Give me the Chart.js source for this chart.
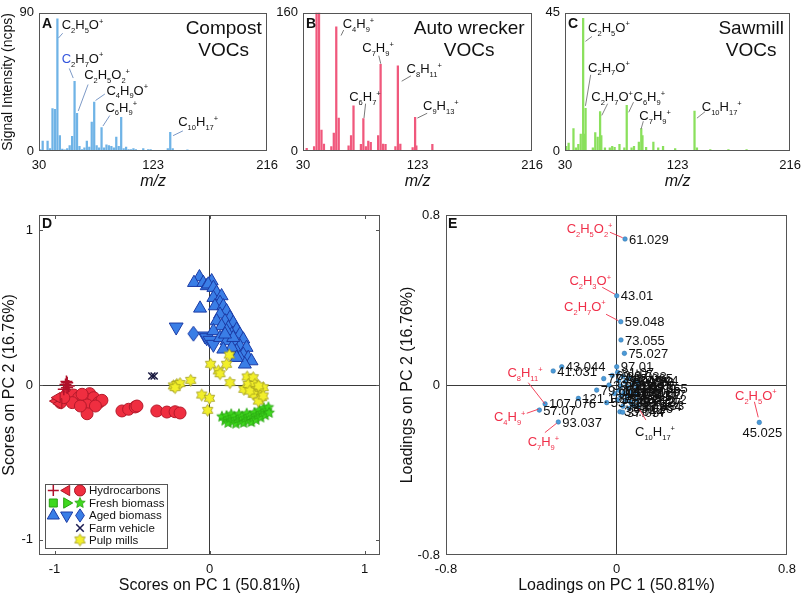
<!DOCTYPE html>
<html><head><meta charset="utf-8">
<script src="https://cdn.jsdelivr.net/npm/chart.js@4.4.1/dist/chart.umd.min.js"></script>
<style>
html,body{margin:0;padding:0;background:#fff;}
body{width:808px;height:596px;position:relative;overflow:hidden;}
canvas{position:absolute;}
</style></head><body>
<canvas id="cA" width="285" height="196" style="left:0px;top:0px"></canvas>
<canvas id="cB" width="285" height="196" style="left:265px;top:0px"></canvas>
<canvas id="cC" width="278" height="196" style="left:530px;top:0px"></canvas>
<canvas id="cD" width="400" height="400" style="left:0px;top:196px"></canvas>
<canvas id="cE" width="408" height="400" style="left:400px;top:196px"></canvas>
<script>
// ---------------- DATA ----------------
const mzTicks = [30, 123, 216];

const compostMz  = [31,33,37,39,41,43,45,47,49,51,53,55,57,59,61,63,65,67,69,71,73,75,77,79,81,83,85,87,89,91,93,95,97,99,101,103,105,107,109,115,119,121,135,137,139,151,165];
const compostInt = [1,6.4,6.4,1.5,27.7,27.1,86,10,1.2,0.8,1.5,3.5,9.6,45.4,24.6,3,1,2,6.4,2.5,18.8,31.9,3.5,2,15.2,2,4,3.5,3,2,9,3,21.9,1.5,2.5,1,1,1.5,1,1.5,1,1,1.5,12.1,1.6,0.8,0.5];

const autoMz  = [33,39,41,43,45,47,53,55,57,59,67,69,71,77,79,81,83,85,91,93,95,97,105,107,109,119,121,122,135];
const autoInt = [3,5,250,250,24.1,8,5,20.8,143.7,38.1,6,17.8,52.2,7.8,37.4,5,11.5,10,17.8,100.3,8,7.8,5,98.5,8,4,38.9,6,7.8];

const sawMz  = [31,33,37,39,41,43,45,46,47,53,55,57,59,60,63,67,69,71,75,79,81,85,87,91,93,94,97,103,107,111,121,137,139,150,165,180];
const sawInt = [1.5,2.6,7.3,1,2.2,5.5,43.2,5.5,13.9,1,6,4.5,12.8,5,1,1,1.5,1.2,2.2,1,14.9,1,1.5,2.9,7.3,5,1.2,2.9,1,1.5,0.8,13,1,0.5,0.5,0.5];

const scoreTicks = [-1, 0, 1];
const loadTicks = [-0.8, 0, 0.8];

const hcPlus = [[-0.929,0.004],[-0.919,-0.017],[-0.94,-0.028],[-0.908,-0.006],[-0.923,0.022],[-0.918,0.015]];
const hcLeftTri = [[-0.994,-0.104],[-0.972,-0.121],[-0.983,-0.082]];
const hcCircle = [[-0.919,-0.060],[-0.876,-0.065],[-0.844,-0.082],[-0.811,-0.093],[-0.773,-0.056],[-0.779,-0.093],[-0.747,-0.082],[-0.715,-0.114],[-0.694,-0.099],[-0.790,-0.129],[-0.736,-0.136],[-0.790,-0.186],[-0.961,-0.114],[-0.886,-0.114],[-0.833,-0.136],[-0.94,-0.082],[-0.822,-0.060],[-0.565,-0.168],[-0.522,-0.157],[-0.479,-0.142],[-0.468,-0.136],[-0.34,-0.168],[-0.275,-0.175],[-0.222,-0.173],[-0.19,-0.181]];
const freshStar = [[0.08,-0.205],[0.10,-0.23],[0.11,-0.2],[0.12,-0.245],[0.13,-0.215],[0.14,-0.19],[0.15,-0.235],[0.16,-0.205],[0.17,-0.25],[0.18,-0.22],[0.19,-0.19],[0.2,-0.235],[0.21,-0.205],[0.22,-0.245],[0.23,-0.215],[0.24,-0.185],[0.25,-0.23],[0.26,-0.2],[0.27,-0.24],[0.28,-0.21],[0.29,-0.18],[0.3,-0.225],[0.31,-0.195],[0.32,-0.165],[0.33,-0.21],[0.34,-0.18],[0.35,-0.15],[0.36,-0.195],[0.37,-0.165],[0.38,-0.145],[0.385,-0.18]];
const agedUp = [[-0.065,0.699],[-0.10,0.662],[-0.04,0.662],[0.014,0.673],[-0.018,0.641],[-0.008,0.652],[0.025,0.630],[0.046,0.598],[0.025,0.565],[0.078,0.576],[0.068,0.533],[0.035,0.511],[0.089,0.511],[0.110,0.479],[0.068,0.457],[0.132,0.436],[0.10,0.414],[0.153,0.403],[0.121,0.371],[0.175,0.360],[0.143,0.328],[0.196,0.328],[0.218,0.296],[0.164,0.285],[0.196,0.252],[0.239,0.242],[0.175,0.220],[0.218,0.198],[0.25,0.177],[0.271,0.155],[0.196,0.177],[0.228,0.134],[0.046,0.414],[0.078,0.382],[0.025,0.350],[0.068,0.306],[0.110,0.285],[0.143,0.242],[0.089,0.231],[0.175,0.177],[-0.061,0.496],[0.11,0.35],[0.153,0.306],[0.10,0.328]];
const agedDown = [[-0.215,0.375],[-0.029,0.317],[-0.018,0.306],[0.003,0.289],[0.025,0.263]];
const agedDiamond = [[-0.104,0.332]];
const farmVehicle = [[-0.372,0.058],[-0.357,0.058]];
const pulpMill = [[-0.233,-0.006],[-0.211,0.004],[-0.19,0.009],[-0.121,0.030],[-0.222,-0.017],[-0.05,-0.065],[0.0,-0.086],[-0.012,-0.164],[0.007,0.134],[0.057,0.091],[0.068,0.073],[0.11,0.134],[0.128,0.194],[0.132,0.015],[0.222,-0.028],[0.243,0.052],[0.282,0.047],[0.25,0.004],[0.293,0.004],[0.304,-0.028],[0.325,-0.05],[0.282,-0.06],[0.336,-0.082],[0.315,-0.104],[0.347,-0.017],[0.26,-0.039],[0.317,-0.006],[0.346,-0.071]];

const loadMz  = ['61.029','43.01','59.048','73.055','75.027','43.044','41.031','97.01','107.076','57.07','93.037','121.101','45.025','79.054','53.039','69.07','81.07','33.033','47.049','83.086','85.065','87.044','95.049','99.081','101.06','109.065','111.08','115.112','119.086','123.117','133.101','135.117','137.133','139.112','149.023','153.127','55.054','71.049','35.044','37.057','63.026','67.054','89.06','105.07','77.04','39.023','91.054'];
const loadPC1 = [0.040,0.001,0.020,0.021,0.037,-0.257,-0.297,0.001,-0.335,-0.362,-0.273,-0.179,0.670,-0.093,-0.046,-0.02,0.005,0.03,0.01,0.04,0.06,0.085,0.02,0.05,0.075,0.095,0.01,0.035,0.065,0.09,0.02,0.05,0.078,0.095,0.04,0.065,0.005,0.03,0.016,0.029,0.06,0.1,0.1,0.1,-0.06,-0.035,-0.01];
const loadPC2 = [0.687,0.420,0.298,0.212,0.149,0.086,0.066,0.086,-0.089,-0.118,-0.174,-0.063,-0.176,-0.024,-0.083,0.045,0.06,0.04,0.02,0.015,0.03,0.02,-0.005,-0.01,0.0,-0.015,-0.025,-0.035,-0.03,-0.045,-0.05,-0.055,-0.094,-0.07,-0.075,-0.08,-0.07,-0.1,-0.126,-0.128,-0.11,-0.1,0.01,-0.04,0.03,0.0,-0.04];
const loadBelow = ['45.025'];

// annotation placement (data units)
const compostLabels = [
  {t:'C_2H_5O^+', at:[48.5,82.3], line:[[45.9,73.6],[49.3,76.7]]},
  {t:'C_2H_7O^+', at:[48.5,60.6], line:[[54.7,53.75],[57.9,47.5]], first:'#3355dd'},
  {t:'C_2H_5O_2^+', at:[66.8,50], line:[[70,43.3],[62,26.1]]},
  {t:'C_4H_9O^+', at:[85,39.8], line:[[83.7,37.1],[76.1,32.9]]},
  {t:'C_6H_9^+', at:[84.2,28.75], line:[[87.7,23.1],[82.1,16.25]]},
  {t:'C_10H_17^+', at:[143.5,19.4], line:[[147.3,13.1],[139.3,10]]}
];
const autoLabels = [
  {t:'C_4H_9^+', at:[62.2,147.4], line:[[63,140],[60.9,133.7]]},
  {t:'C_7H_9^+', at:[78.1,119.7], line:[[91.5,110.3],[93.1,101.1]]},
  {t:'C_8H_11^+', at:[114.1,95.6], line:[[117.6,87],[110.1,80.8]]},
  {t:'C_6H_7^+', at:[67.5,63], line:[[80.8,54.8],[79.5,38.1]]},
  {t:'C_9H_13^+', at:[127.4,53], line:[[130.8,43.7],[122.8,38.1]]}
];
const sawLabels = [
  {t:'C_2H_5O^+', at:[49.1,40.4], line:[[52.3,37.3],[46.9,35.7]]},
  {t:'C_2H_7O^+', at:[49.1,27.4], line:[[51.2,24.8],[46.9,14.7]]},
  {t:'C_2H_7O^+', at:[51.7,17.7], line:[[65.2,15.4],[60.4,11.6]]},
  {t:'C_6H_9^+', at:[86.6,17.7], line:[[86.6,15.9],[82.6,12.6]]},
  {t:'C_7H_9^+', at:[91.4,11.5], line:[[94.7,9.7],[92.8,7.1]]},
  {t:'C_10H_17^+', at:[143,14.4], line:[[145.7,12.8],[139,10.7]]}
];
const loadFormulas = [
  {t:'C_2H_5O_2^+', at:[-0.234,0.737], line:[[-0.031,0.719],[0.029,0.693]], red:true},
  {t:'C_2H_3O^+', at:[-0.221,0.494], line:[[-0.067,0.46],[-0.007,0.427]], red:true},
  {t:'C_2H_7O^+', at:[-0.246,0.372], line:[[-0.049,0.333],[0.008,0.303]], red:true},
  {t:'C_8H_11^+', at:[-0.512,0.06], line:[[-0.414,0.011],[-0.336,-0.089]], red:true},
  {t:'C_4H_9^+', at:[-0.575,-0.146], line:[[-0.421,-0.133],[-0.367,-0.114]], red:true},
  {t:'C_7H_9^+', at:[-0.417,-0.267], line:[[-0.336,-0.224],[-0.281,-0.18]], red:true},
  {t:'C_2H_5O^+', at:[0.556,-0.047], line:[[0.647,-0.079],[0.665,-0.152]], red:true},
  {t:'C_10H_17^+', at:[0.087,-0.22], line:[[0.138,-0.165],[0.107,-0.114]], red:false}
];

// ---------------- HELPERS ----------------
const FONT = "'Liberation Sans', Arial, Helvetica, sans-serif";
Chart.defaults.font.family = FONT;
Chart.defaults.color = '#111';
const RED = '#f0304a';

function fixedTicks(vals){ return s => { s.ticks = vals.map(v => ({value: v})); }; }
function toPts(arr){ return arr.map(p => ({x: p[0], y: p[1]})); }
function decor(fn){ return {id:'decor', afterDatasetsDraw(chart){ fn(chart, chart.ctx, chart.chartArea, chart.scales.x, chart.scales.y); }}; }
function frame(ctx, a, color){
  ctx.save(); ctx.strokeStyle = color; ctx.lineWidth = 1;
  ctx.strokeRect(Math.round(a.left)+0.5, Math.round(a.top)+0.5, Math.round(a.right-a.left)-1, Math.round(a.bottom-a.top)-1);
  ctx.restore();
}
function drawFormula(ctx, str, x, y, size, color, firstColor){
  const parts = [];
  for (let i = 0; i < str.length;) {
    const c = str[i];
    if (c === '_') { let j = i+1, s = ''; while (j < str.length && /\d/.test(str[j])) s += str[j++]; parts.push([s,1]); i = j; }
    else if (c === '^') { parts.push([str[i+1],2]); i += 2; }
    else { parts.push([c,0]); i++; }
  }
  ctx.save(); ctx.textAlign = 'left'; ctx.textBaseline = 'alphabetic';
  const base = y + size*0.36; let cx = x;
  parts.forEach(([s,k], idx) => {
    const fs = k ? size*0.58 : size;
    ctx.font = fs + 'px ' + FONT;
    ctx.fillStyle = (idx === 0 && firstColor) ? firstColor : color;
    const dy = k === 1 ? size*0.3 : (k === 2 ? -size*0.4 : 0);
    ctx.fillText(s, cx, base + dy);
    cx += ctx.measureText(s).width;
  });
  ctx.restore();
}
function starImg(n, ro, ri, fill, stroke){
  const c = document.createElement('canvas'); const s = Math.ceil(ro*2+3); c.width = s; c.height = s;
  const g = c.getContext('2d'); g.translate(s/2, s/2); g.beginPath();
  for (let k = 0; k < 2*n; k++) { const r = k%2 ? ri : ro; const ang = -Math.PI/2 + k*Math.PI/n; g.lineTo(r*Math.cos(ang), r*Math.sin(ang)); }
  g.closePath(); g.fillStyle = fill; g.fill(); g.lineWidth = 0.8; g.strokeStyle = stroke; g.stroke();
  return c;
}
function diamondImg(w, h, fill, stroke){
  const c = document.createElement('canvas'); c.width = w+2; c.height = h+2;
  const g = c.getContext('2d'); g.translate(c.width/2, c.height/2); g.beginPath();
  g.moveTo(0,-h/2); g.lineTo(w/2,0); g.lineTo(0,h/2); g.lineTo(-w/2,0); g.closePath();
  g.fillStyle = fill; g.fill(); g.lineWidth = 1; g.strokeStyle = stroke; g.stroke();
  return c;
}
function sym(ctx, type, x, y, r, fill, stroke, lw, rot){
  ctx.save(); ctx.translate(x, y); ctx.rotate((rot||0)*Math.PI/180); ctx.beginPath();
  if (type === 'circle') ctx.arc(0,0,r,0,2*Math.PI);
  else if (type === 'triangle') { for (let k=0;k<3;k++){ const a=k*2*Math.PI/3; ctx.lineTo(Math.sin(a)*r, -Math.cos(a)*r);} ctx.closePath(); }
  else if (type === 'rect') ctx.rect(-r,-r,2*r,2*r);
  else if (type === 'diamond') { ctx.moveTo(0,-r*1.2); ctx.lineTo(r*0.8,0); ctx.lineTo(0,r*1.2); ctx.lineTo(-r*0.8,0); ctx.closePath(); }
  else if (type === 'cross') { ctx.moveTo(-r,0); ctx.lineTo(r,0); ctx.moveTo(0,-r); ctx.lineTo(0,r); }
  else if (type === 'x') { const d=r*0.75; ctx.moveTo(-d,-d); ctx.lineTo(d,d); ctx.moveTo(d,-d); ctx.lineTo(-d,d); }
  if (fill && type !== 'cross' && type !== 'x') { ctx.fillStyle = fill; ctx.fill(); }
  ctx.lineWidth = lw; ctx.strokeStyle = stroke; ctx.stroke();
  ctx.restore();
}

// ---------------- SPECTRA (A, B, C) ----------------
function specDecor(letter, titles, titleDx, labels, lineColor){
  return decor((chart, ctx, a, xs, ys) => {
    frame(ctx, a, '#555');
    ctx.save();
    ctx.fillStyle = '#111';
    ctx.font = 'bold 14px ' + FONT; ctx.textAlign = 'left'; ctx.textBaseline = 'alphabetic';
    ctx.fillText(letter, a.left + 3, a.top + 15.5);
    ctx.font = '19px ' + FONT; ctx.textAlign = 'center';
    ctx.fillText(titles[0], a.right + titleDx, a.top + 21.2);
    ctx.fillText(titles[1], a.right + titleDx, a.top + 43);
    ctx.strokeStyle = lineColor; ctx.lineWidth = 0.8;
    labels.forEach(L => {
      ctx.beginPath();
      ctx.moveTo(xs.getPixelForValue(L.line[0][0]), ys.getPixelForValue(L.line[0][1]));
      ctx.lineTo(xs.getPixelForValue(L.line[1][0]), ys.getPixelForValue(L.line[1][1]));
      ctx.stroke();
      drawFormula(ctx, L.t, xs.getPixelForValue(L.at[0]), ys.getPixelForValue(L.at[1]), 13, '#111', L.first);
    });
    ctx.restore();
  });
}
function spectrum(id, mz, inten, ymax, color, cfg){
  const pts = mz.map((m, i) => ({x: m, y: inten[i]}));
  return new Chart(document.getElementById(id), {
    type: 'bar',
    data: {datasets: [{data: pts, backgroundColor: color, borderWidth: 0, barThickness: 1.6, clip: 0}]},
    options: {
      responsive: false, animation: false, devicePixelRatio: 1,
      layout: {autoPadding: false, padding: {left: 0, top: 7, right: cfg.padR, bottom: 0}},
      plugins: {legend: {display: false}, tooltip: {enabled: false}},
      scales: {
        x: {type: 'linear', min: 30, max: 216, offset: false,
            grid: {display: false, drawTicks: false, offset: false}, border: {display: false},
            afterBuildTicks: fixedTicks(mzTicks),
            ticks: {padding: 7, font: {size: 13}, color: '#111', autoSkip: false, maxRotation: 0},
            title: {display: true, text: 'm/z', color: '#111', font: {size: 16, style: 'italic'}, padding: {top: 0, bottom: 5}},
            afterFit: s => { s.height = 45; }},
        y: {type: 'linear', min: 0, max: ymax,
            grid: {display: false, drawTicks: false}, border: {display: false},
            afterBuildTicks: fixedTicks([0, ymax]),
            ticks: {padding: 5, font: {size: 13}, color: '#111'},
            title: {display: !!cfg.ytitle, text: cfg.ytitle || '', color: '#111', font: {size: 14}, padding: {top: 0, bottom: 0}},
            afterFit: s => { s.width = cfg.yw; }}
      }
    },
    plugins: [specDecor(cfg.letter, cfg.titles, cfg.titleDx, cfg.labels, cfg.lineColor)]
  });
}

spectrum('cA', compostMz, compostInt, 90, '#6fb3e6',
  {padR: 15, yw: 39, ytitle: 'Signal Intensity (ncps)', letter: 'A', titles: ['Compost','VOCs'], titleDx: -43.5, labels: compostLabels, lineColor: '#5a7fb8'});
spectrum('cB', autoMz, autoInt, 160, '#f0587c',
  {padR: 14, yw: 38, letter: 'B', titles: ['Auto wrecker','VOCs'], titleDx: -63, labels: autoLabels, lineColor: '#555'});
spectrum('cC', sawMz, sawInt, 45, '#8ae05c',
  {padR: 12, yw: 35, letter: 'C', titles: ['Sawmill','VOCs'], titleDx: -39, labels: sawLabels, lineColor: '#666'});

// ---------------- SCORES (D) ----------------
const yellowStar = starImg(6, 6, 3.6, '#f2ef2a', '#a09a1c');
const greenStar = starImg(5, 5.5, 2.6, '#3fd81e', '#27a010');
const blueDiamond = diamondImg(11, 15, '#3a7ee6', '#1c3ca6');
const zeroGrid = {drawTicks: false, lineWidth: 1, color: c => (c.tick && c.tick.value === 0) ? '#3a3a3a' : 'rgba(0,0,0,0)'};

function axisTicks(ctx, a, xs, ys, xv, yv){
  ctx.save(); ctx.strokeStyle = '#555'; ctx.lineWidth = 1; ctx.beginPath();
  xv.forEach(v => { const p = Math.round(xs.getPixelForValue(v)) + 0.5; ctx.moveTo(p, a.bottom); ctx.lineTo(p, a.bottom-4); ctx.moveTo(p, a.top); ctx.lineTo(p, a.top+4); });
  yv.forEach(v => { const p = Math.round(ys.getPixelForValue(v)) + 0.5; ctx.moveTo(a.left, p); ctx.lineTo(a.left+4, p); ctx.moveTo(a.right, p); ctx.lineTo(a.right-4, p); });
  ctx.stroke(); ctx.restore();
}

new Chart(document.getElementById('cD'), {
  type: 'scatter',
  data: {datasets: [
    {label: 'Farm vehicle', data: toPts(farmVehicle), pointStyle: 'crossRot', pointRadius: 5, pointBorderColor: '#1a1a40', pointBackgroundColor: '#1a1a40', pointBorderWidth: 1.5},
    {label: 'Pulp mills', data: toPts(pulpMill), pointStyle: yellowStar, pointRadius: 6},
    {label: 'Aged biomass', data: toPts(agedUp), pointStyle: 'triangle', pointRadius: 7.5, pointBackgroundColor: '#3a7ee6', pointBorderColor: '#1c3ca6', pointBorderWidth: 1},
    {label: 'Aged biomass 2', data: toPts(agedDown), pointStyle: 'triangle', pointRotation: 180, pointRadius: 8, pointBackgroundColor: '#3a7ee6', pointBorderColor: '#1c3ca6', pointBorderWidth: 1},
    {label: 'Aged biomass 3', data: toPts(agedDiamond), pointStyle: blueDiamond, pointRadius: 7},
    {label: 'Fresh biomass', data: toPts(freshStar), pointStyle: greenStar, pointRadius: 5},
    {label: 'Hydrocarbons 1', data: toPts(hcPlus), pointStyle: 'cross', pointRadius: 6, pointBorderColor: '#b0102a', pointBorderWidth: 1.5},
    {label: 'Hydrocarbons 2', data: toPts(hcLeftTri), pointStyle: 'triangle', pointRotation: -90, pointRadius: 6, pointBackgroundColor: '#ef2e40', pointBorderColor: '#a81828', pointBorderWidth: 1},
    {label: 'Hydrocarbons 3', data: toPts(hcCircle), pointStyle: 'circle', pointRadius: 6, pointBackgroundColor: '#ef2e40', pointBorderColor: '#b51a2b', pointBorderWidth: 1}
  ]},
  options: {
    responsive: false, animation: false, devicePixelRatio: 1,
    layout: {autoPadding: false, padding: {left: 0, top: 19, right: 20, bottom: 0}},
    plugins: {legend: {display: false}, tooltip: {enabled: false}},
    scales: {
      x: {type: 'linear', min: -1.1, max: 1.1, grid: zeroGrid, border: {display: false},
          afterBuildTicks: fixedTicks(scoreTicks),
          ticks: {padding: 7, font: {size: 13}, color: '#111', autoSkip: false, maxRotation: 0},
          title: {display: true, text: 'Scores on PC 1 (50.81%)', color: '#111', font: {size: 16}, padding: {top: 0, bottom: 1}},
          afterFit: s => { s.height = 41; }},
      y: {type: 'linear', min: -1.1, max: 1.1, grid: zeroGrid, border: {display: false},
          afterBuildTicks: fixedTicks(scoreTicks),
          ticks: {padding: 6, font: {size: 13}, color: '#111'},
          title: {display: true, text: 'Scores on PC 2 (16.76%)', color: '#111', font: {size: 16}, padding: {top: 0, bottom: 0}},
          afterFit: s => { s.width = 39; }}
    }
  },
  plugins: [decor((chart, ctx, a, xs, ys) => {
    frame(ctx, a, '#555');
    axisTicks(ctx, a, xs, ys, scoreTicks, scoreTicks);
    ctx.save();
    ctx.fillStyle = '#111'; ctx.font = 'bold 14px ' + FONT; ctx.textAlign = 'left'; ctx.textBaseline = 'alphabetic';
    ctx.fillText('D', a.left + 3, a.top + 13);
    // legend
    const bx = a.left + 6, by = a.bottom - 71, bw = 122, bh = 64;
    ctx.fillStyle = '#fff'; ctx.fillRect(bx, by, bw, bh);
    ctx.strokeStyle = '#555'; ctx.lineWidth = 1; ctx.strokeRect(bx + 0.5, by + 0.5, bw, bh);
    const rows = [6.5, 19, 31.5, 44, 56];
    const cols = [8.3, 21.7, 35];
    const R = '#ef2e40', RB = '#a81828', G = '#3fd81e', GB = '#27a010', B = '#3a7ee6', BB = '#1c3ca6';
    sym(ctx, 'cross', bx+cols[0], by+rows[0], 5.5, null, '#b0102a', 1.5);
    sym(ctx, 'triangle', bx+cols[1], by+rows[0], 6, R, RB, 1, -90);
    sym(ctx, 'circle', bx+cols[2], by+rows[0], 5.5, R, RB, 1);
    sym(ctx, 'rect', bx+cols[0], by+rows[1], 4, G, GB, 1);
    sym(ctx, 'triangle', bx+cols[1], by+rows[1], 6, G, GB, 1, 90);
    ctx.drawImage(greenStar, bx+cols[2]-greenStar.width/2, by+rows[1]-greenStar.height/2);
    sym(ctx, 'triangle', bx+cols[0], by+rows[2], 7, B, BB, 1);
    sym(ctx, 'triangle', bx+cols[1], by+rows[2], 7, B, BB, 1, 180);
    sym(ctx, 'diamond', bx+cols[2], by+rows[2], 5.5, B, BB, 1);
    sym(ctx, 'x', bx+cols[2], by+rows[3], 5, null, '#1a1a50', 1.5);
    ctx.drawImage(yellowStar, bx+cols[2]-yellowStar.width/2, by+rows[4]-yellowStar.height/2);
    ctx.fillStyle = '#111'; ctx.font = '11.5px ' + FONT; ctx.textBaseline = 'middle';
    ['Hydrocarbons','Fresh biomass','Aged biomass','Farm vehicle','Pulp mills'].forEach((t, i) => ctx.fillText(t, bx + 44, by + rows[i] + 0.5));
    ctx.restore();
  })]
});

// ---------------- LOADINGS (E) ----------------
new Chart(document.getElementById('cE'), {
  type: 'scatter',
  data: {datasets: [
    {label: 'Loadings', data: loadMz.map((m, i) => ({x: loadPC1[i], y: loadPC2[i]})), pointStyle: 'circle', pointRadius: 2.3,
     pointBackgroundColor: '#4a9ad8', pointBorderColor: '#2b6fa8', pointBorderWidth: 0.5}
  ]},
  options: {
    responsive: false, animation: false, devicePixelRatio: 1,
    layout: {autoPadding: false, padding: {left: 0, top: 19, right: 21, bottom: 0}},
    plugins: {legend: {display: false}, tooltip: {enabled: false}},
    scales: {
      x: {type: 'linear', min: -0.8, max: 0.8, grid: zeroGrid, border: {display: false},
          afterBuildTicks: fixedTicks(loadTicks),
          ticks: {padding: 7, font: {size: 13}, color: '#111', autoSkip: false, maxRotation: 0},
          title: {display: true, text: 'Loadings on PC 1 (50.81%)', color: '#111', font: {size: 16}, padding: {top: 0, bottom: 1}},
          afterFit: s => { s.height = 41; }},
      y: {type: 'linear', min: -0.8, max: 0.8, grid: zeroGrid, border: {display: false},
          afterBuildTicks: fixedTicks(loadTicks),
          ticks: {padding: 6, font: {size: 13}, color: '#111'},
          title: {display: true, text: 'Loadings on PC 2 (16.76%)', color: '#111', font: {size: 16, lineHeight: 1}, padding: {top: 0, bottom: 0}},
          afterFit: s => { s.width = 46; }}
    }
  },
  plugins: [decor((chart, ctx, a, xs, ys) => {
    frame(ctx, a, '#555');
    ctx.save();
    ctx.fillStyle = '#111'; ctx.font = 'bold 14px ' + FONT; ctx.textAlign = 'left'; ctx.textBaseline = 'alphabetic';
    ctx.fillText('E', a.left + 2, a.top + 13);
    ctx.font = '13px ' + FONT; ctx.textBaseline = 'middle';
    loadMz.forEach((m, i) => {
      const px = xs.getPixelForValue(loadPC1[i]), py = ys.getPixelForValue(loadPC2[i]);
      if (loadBelow.includes(m)) { ctx.textAlign = 'center'; ctx.fillText(m, px + 3, py + 11); }
      else { ctx.textAlign = 'left'; ctx.fillText(m, px + 4, py + 1); }
    });
    ctx.strokeStyle = RED; ctx.lineWidth = 0.9;
    loadFormulas.forEach(L => {
      ctx.beginPath();
      ctx.moveTo(xs.getPixelForValue(L.line[0][0]), ys.getPixelForValue(L.line[0][1]));
      ctx.lineTo(xs.getPixelForValue(L.line[1][0]), ys.getPixelForValue(L.line[1][1]));
      ctx.stroke();
      drawFormula(ctx, L.t, xs.getPixelForValue(L.at[0]), ys.getPixelForValue(L.at[1]), 13, L.red ? RED : '#111');
    });
    ctx.restore();
  })]
});
</script>
</body></html>
